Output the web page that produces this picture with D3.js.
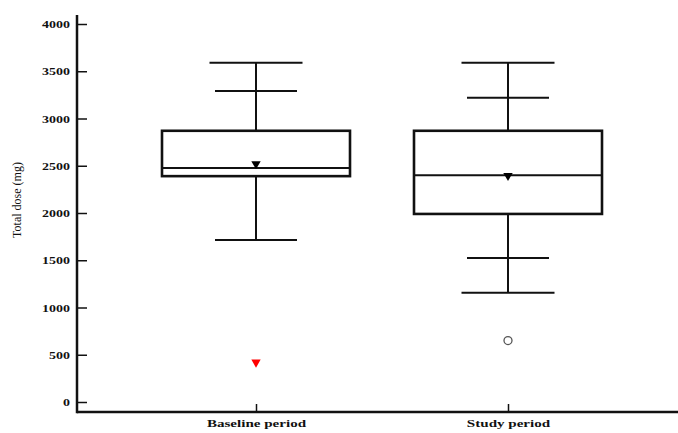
<!DOCTYPE html>
<html>
<head>
<meta charset="utf-8">
<script src="https://cdn.jsdelivr.net/npm/d3@7"></script>
<style>
  body { margin: 0; background: #fff; }
  svg { display: block; }
</style>
</head>
<body>
<svg id="chart" width="678" height="433"></svg>
<script>
const groups = ["Baseline period", "Study period"];
const maxima = [3590, 3590];
const upperPct = [3290, 3220];
const q3 = [2870, 2870];
const medians = [2475, 2400];
const q1 = [2390, 1990];
const lowerPct = [1715, 1525];
const minima = [null, 1155];
const means = [2520, 2395];
const redPoints = [{ group: "Baseline period", value: 420 }];
const openPoints = [{ group: "Study period", value: 650 }];
const yTicks = [0, 500, 1000, 1500, 2000, 2500, 3000, 3500, 4000];

const svg = d3.select("#chart");
const axisLeftX = 77, axisBottomY = 412;
const serif = "'Liberation Serif', 'DejaVu Serif', serif";

const y = d3.scaleLinear().domain([0, 4000]).range([402, 24]);
const x = d3.scalePoint().domain(groups).range([256, 508]);

const boxes = groups.map((g, i) => ({
  group: g, max: maxima[i], up: upperPct[i], q3: q3[i], med: medians[i],
  q1: q1[i], low: lowerPct[i], min: minima[i], mean: means[i]
}));

const boxW = 188, outerCap = 93, innerCap = 82;

const g = svg.selectAll(".box").data(boxes).enter().append("g").attr("class", "box");

// whiskers
g.append("line")
  .attr("x1", d => x(d.group)).attr("x2", d => x(d.group))
  .attr("y1", d => y(d.max)).attr("y2", d => y(d.q3))
  .attr("stroke", "#111").attr("stroke-width", 2);
g.append("line")
  .attr("x1", d => x(d.group)).attr("x2", d => x(d.group))
  .attr("y1", d => y(d.q1)).attr("y2", d => y(d.min != null ? d.min : d.low))
  .attr("stroke", "#111").attr("stroke-width", 2);

// caps
function cap(sel, key, w) {
  sel.filter(d => d[key] != null).append("line")
    .attr("x1", d => x(d.group) - w / 2).attr("x2", d => x(d.group) + w / 2)
    .attr("y1", d => y(d[key])).attr("y2", d => y(d[key]))
    .attr("stroke", "#111").attr("stroke-width", 2);
}
cap(g, "max", outerCap);
cap(g, "up", innerCap);
cap(g, "low", innerCap);
cap(g, "min", outerCap);

// box
g.append("rect")
  .attr("x", d => x(d.group) - boxW / 2)
  .attr("y", d => y(d.q3))
  .attr("width", boxW)
  .attr("height", d => y(d.q1) - y(d.q3))
  .attr("fill", "#fff").attr("stroke", "#111").attr("stroke-width", 2.6);

// median
g.append("line")
  .attr("x1", d => x(d.group) - boxW / 2).attr("x2", d => x(d.group) + boxW / 2)
  .attr("y1", d => y(d.med)).attr("y2", d => y(d.med))
  .attr("stroke", "#111").attr("stroke-width", 2);

const tri = d3.symbol().type(d3.symbolTriangle).size(38);

// mean marker
g.append("path")
  .attr("d", tri)
  .attr("transform", d => `translate(${x(d.group)},${y(d.mean)}) rotate(180)`)
  .attr("fill", "#000");

svg.selectAll(".red").data(redPoints).enter().append("path")
  .attr("d", tri)
  .attr("transform", d => `translate(${x(d.group)},${y(d.value)}) rotate(180)`)
  .attr("fill", "#f00");

svg.selectAll(".open").data(openPoints).enter().append("circle")
  .attr("cx", d => x(d.group)).attr("cy", d => y(d.value)).attr("r", 4)
  .attr("fill", "#fff").attr("stroke", "#555").attr("stroke-width", 1.3);

// y axis
const yAxis = svg.append("g")
  .attr("transform", `translate(${axisLeftX},0)`)
  .call(d3.axisLeft(y).tickValues(yTicks).tickFormat(d3.format("d"))
    .tickSizeInner(-10).tickSizeOuter(0).tickPadding(6));
yAxis.select(".domain").remove();
yAxis.selectAll(".tick line").attr("stroke", "#111").attr("stroke-width", 1.5);
yAxis.selectAll(".tick text")
  .attr("x", 0)
  .attr("transform", "translate(-7,0) scale(1.27,1)")
  .attr("fill", "#111")
  .style("font-family", serif)
  .style("font-size", "11px").style("font-weight", "bold");

// x axis
const xAxis = svg.append("g")
  .attr("transform", `translate(0,${axisBottomY})`)
  .call(d3.axisBottom(x).tickSizeInner(-8).tickSizeOuter(0).tickPadding(7));
xAxis.select(".domain").remove();
xAxis.selectAll(".tick line").attr("stroke", "#111").attr("stroke-width", 1.5);
xAxis.selectAll(".tick text")
  .attr("fill", "#111")
  .attr("transform", "scale(1.37,1)")
  .style("font-family", serif)
  .style("font-size", "11px").style("font-weight", "bold");

// axis lines
svg.append("line")
  .attr("x1", axisLeftX).attr("x2", axisLeftX).attr("y1", 15).attr("y2", axisBottomY + 1.25)
  .attr("stroke", "#111").attr("stroke-width", 2.5);
svg.append("line")
  .attr("x1", axisLeftX).attr("x2", 678).attr("y1", axisBottomY).attr("y2", axisBottomY)
  .attr("stroke", "#111").attr("stroke-width", 2.5);

// y label
svg.append("text")
  .attr("transform", "translate(21,200) rotate(-90)")
  .attr("text-anchor", "middle")
  .attr("fill", "#111")
  .style("font-family", serif)
  .style("font-size", "12px")
  .text("Total dose (mg)");
</script>
</body>
</html>
